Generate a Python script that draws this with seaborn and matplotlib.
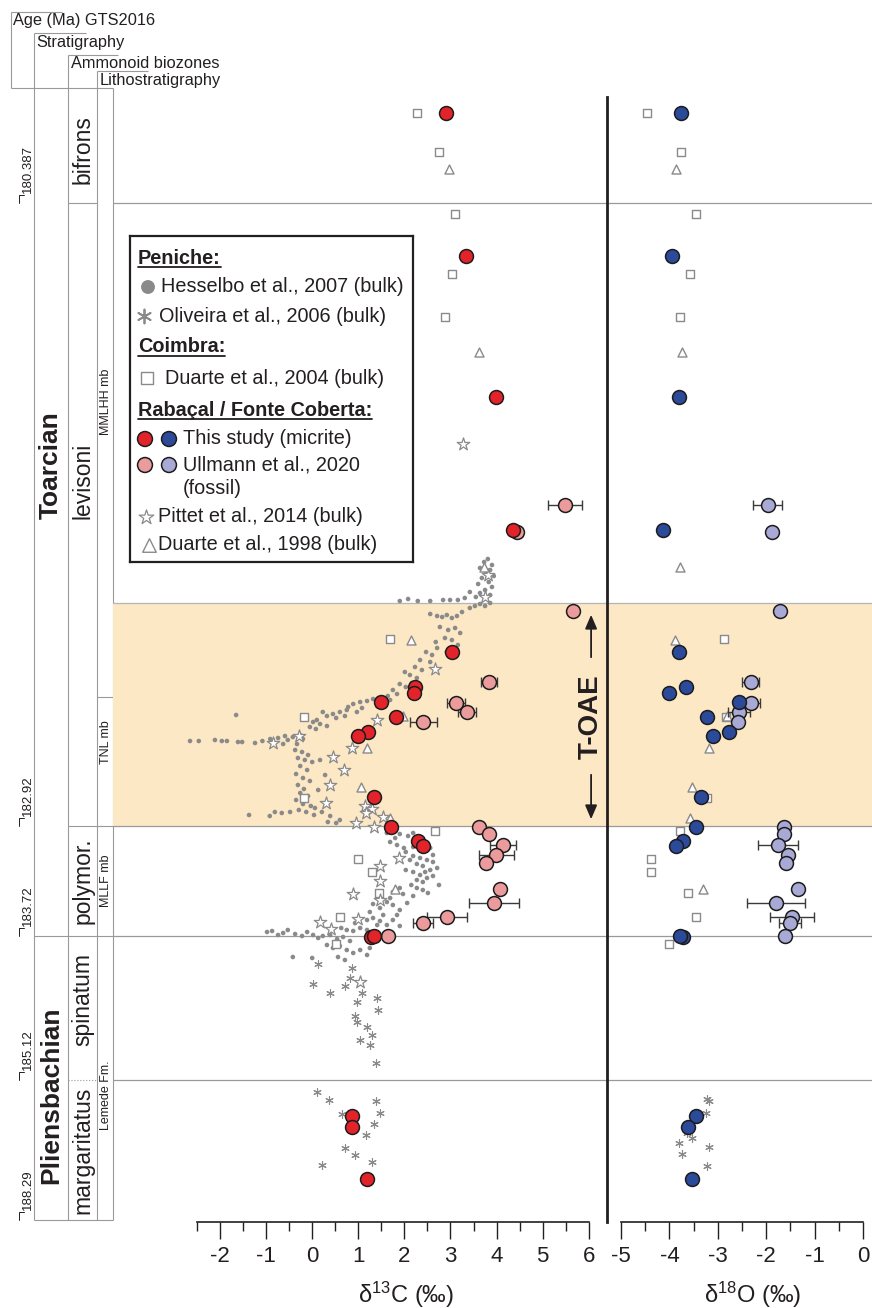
import numpy as np
import pandas as pd
import matplotlib
matplotlib.use("Agg")
import matplotlib.pyplot as plt
import seaborn as sns

# ---------------- stratigraphic framework (composite level, base = 0) ----------------
zone_names = ["bifrons", "levisoni", "polymor.", "spinatum", "margaritatus"]
zone_tops = [113.2, 101.9, 39.6, 28.6, 14.2]
zone_label_levels = [107.2, 74.1, 34.1, 22.2, 7.2]
stage_names = ["Toarcian", "Pliensbachian"]
stage_label_levels = [75.7, 12.7]
stage_boundary = 28.6
litho_names = ["MMLHH mb", "TNL mb", "MLLF mb", "Lemede Fm."]
litho_tops = [113.2, 52.5, 39.6, 28.6]
litho_label_levels = [82.0, 48.0, 34.1, 12.7]
age_labels = ["180.387", "182.92", "183.72", "185.12", "188.29"]
age_levels = [101.9, 39.6, 28.6, 14.2, 0.2]
section_base = 0.2
toae_base, toae_top = 39.6, 61.9

# ---------------- Peniche: Hesselbo et al. 2007 (bulk d13C) ----------------
hesselbo_d13c = [3.81, 3.73, 3.90, 3.64, 3.86, 3.77, 3.94, 3.68, 3.83, 3.60, 3.90, 3.75, 3.64, 3.86, 3.55, 3.42, 3.31, 3.16, 2.99, 2.84, 2.56, 2.29, 2.08, 1.90,
                 2.56, 2.71, 2.82, 2.92, 3.03, 3.14, 3.25, 3.42, 3.53, 3.64, 3.75, 3.86,
                 2.77, 2.95, 3.10, 3.21, 2.88, 3.03, 2.68, 3.16, 2.71, 2.92,
                 2.47, 2.60, 2.34, 2.56, 2.23, 2.38, 2.12, 2.27, 2.01, 2.16,
                 1.90, 2.03, 1.75, 1.84, 1.64, 1.54, 1.69,
                 1.32, 1.19, 1.04, 0.89, 1.41, 1.08, 0.78, 0.97,
                 0.75, 0.60, 0.45, 0.32, 0.23, 0.52, 0.71,
                 -1.65,
                 0.10, 0.02, 0.17, 0.32, -0.05, 0.08,
                 -2.65, -2.46, -2.11, -1.96, -1.85, -1.61, -1.52, -1.24, -1.08, -0.91, -0.74, -0.59, -0.53, -0.42, -0.33, -0.20, -0.26, -0.63,
                 -0.37, -0.22, -0.09, -0.31, -0.16, 0.00, -0.26, -0.11, -0.35, -0.20, -0.05, -0.31, -0.18, -0.26, -0.09, -0.35, -0.20, -0.03, -0.29, -0.13, 0.04,
                 0.17, 0.28, 0.13,
                 -1.37, -0.92, -0.81, -0.66, -0.48, 0.06, 0.21, 0.39, 0.60, 0.34, 0.52,
                 1.62, 1.90, 2.08, 2.19, 1.69, 1.84, 1.99, 2.19, 2.49, 1.80, 2.34, 2.56,
                 2.03, 2.19, 2.34, 2.49, 2.62, 2.27, 2.40, 2.62, 2.12,
                 2.03, 2.19, 2.34, 2.49, 2.56, 2.27, 2.40, 2.62, 2.71, 2.45,
                 2.15, 2.27, 2.40, 1.90, 1.97, 2.19, 1.75, 1.69, 2.75, 2.51,
                 1.62, 1.75, 1.90, 1.32, 1.47, 1.25, 1.54, 2.06, 1.84,
                 1.19, 1.32, 1.47, 1.62, 1.75, 1.90, 1.41, 0.93,
                 0.75, 0.89, 1.04, 1.19, 1.32, 0.63,
                 -0.98, -0.87, -0.74, -0.63, -0.53, -0.37, -0.22, -0.11, 0.02, 0.13, 0.23, 0.39, 0.54, 0.67, 0.82,
                 0.32, 0.45, 0.60, 0.75, 0.89, 1.04, 1.19, 1.25, -0.42, 0.00, 0.56, 0.71]
hesselbo_level = [66.3, 66.0, 65.7, 65.4, 65.2, 64.8, 64.6, 64.4, 64.0, 63.8, 63.5, 63.2, 62.9, 62.7, 62.5, 63.0, 62.4, 62.2, 62.2, 62.2, 62.1, 62.1, 62.3, 62.1,
                  60.8, 60.6, 60.5, 60.7, 60.4, 60.6, 61.0, 61.4, 61.6, 61.8, 61.6, 61.9,
                  59.5, 59.2, 59.4, 58.9, 58.4, 58.2, 58.0, 57.7, 57.4, 57.0,
                  57.0, 56.7, 56.2, 56.0, 55.5, 55.2, 54.7, 54.4, 55.0, 53.9,
                  53.8, 53.5, 53.2, 52.8, 52.6, 52.4, 52.2,
                  52.3, 52.1, 52.0, 51.8, 51.6, 51.4, 51.5, 51.0,
                  51.2, 51.0, 50.8, 50.6, 51.0, 50.4, 50.6,
                  50.7,
                  50.2, 50.0, 49.8, 49.6, 49.5, 49.3,
                  48.1, 48.1, 48.2, 48.1, 48.1, 48.0, 48.0, 47.9, 48.1, 48.3, 48.4, 48.6, 48.2, 48.5, 47.8, 48.3, 48.7, 47.8,
                  47.2, 47.0, 46.7, 46.4, 46.2, 46.0, 45.6, 45.2, 44.8, 44.4, 44.1, 43.7, 43.3, 42.9, 42.6, 42.2, 41.8, 41.6, 41.2, 41.0, 40.7,
                  46.2, 44.7, 43.2,
                  40.7, 40.6, 41.0, 40.9, 41.0, 41.4, 41.0, 40.6, 40.2, 40.0, 39.9,
                  38.9, 38.8, 38.6, 38.9, 38.0, 37.7, 37.4, 37.5, 37.9, 38.4, 38.2, 37.4,
                  37.0, 36.6, 36.4, 36.2, 36.0, 35.8, 35.6, 36.7, 36.2,
                  35.2, 35.0, 34.7, 34.4, 35.2, 34.2, 34.0, 34.6, 35.4, 35.0,
                  33.7, 33.4, 33.2, 33.4, 32.8, 32.6, 33.0, 32.4, 33.7, 32.9,
                  32.0, 31.7, 31.2, 31.8, 31.4, 31.0, 30.7, 31.9, 30.7,
                  30.2, 30.4, 30.1, 29.7, 30.2, 29.6, 29.7, 29.9,
                  29.2, 29.1, 29.4, 29.2, 28.9, 29.4,
                  29.0, 29.1, 28.7, 28.9, 29.2, 28.8, 28.6, 29.0, 28.7, 28.4, 28.6, 28.7, 28.3, 28.5, 28.1,
                  27.7, 27.4, 27.6, 27.2, 26.9, 27.2, 26.7, 27.4, 26.5, 26.4, 26.5, 26.2]

# ---------------- Peniche: Oliveira et al. 2006 (bulk) ----------------
oliveira_d13c = [0.13, 0.86, 0.82, 0.02, 0.71, 0.39, 1.08, 1.41, 0.97, 1.43, 0.93, 0.97, 1.19, 1.30, 1.04, 1.25, 1.38,
                 0.10, 0.36, 1.38, 1.47, 0.65, 1.34, 1.17, 0.71, 0.93, 1.30, 0.21]
oliveira_c_level = [25.8, 25.4, 24.4, 23.8, 23.6, 22.9, 22.9, 22.4, 22.0, 21.2, 20.6, 20.0, 19.5, 18.7, 18.2, 17.7, 15.9,
                    13.0, 12.2, 12.1, 10.9, 10.8, 9.8, 8.7, 7.4, 6.7, 6.0, 5.7]
oliveira_d18o = [-3.23, -3.18, -3.25, -3.64, -3.53, -3.80, -3.18, -3.73, -3.23]
oliveira_o_level = [12.3, 12.1, 10.9, 8.9, 8.4, 7.9, 7.5, 6.8, 5.6]

# ---------------- Coimbra: Duarte et al. 2004 (bulk) ----------------
duarte04_level = [110.9, 107.0, 100.8, 94.8, 90.5, 58.3, 50.5, 42.4, 39.1, 36.3, 35.0, 32.9, 30.5, 27.8]
duarte04_d13c = [2.27, 2.75, 3.10, 3.03, 2.88, 1.69, -0.17, -0.18, 2.66, 1.00, 1.30, 1.44, 0.60, 0.52]
duarte04_d18o = [-4.47, -3.77, -3.44, -3.57, -3.78, -2.87, -2.83, -3.22, -3.78, -4.37, -4.37, -3.62, -3.44, -4.00]

# ---------------- Rabacal / Fonte Coberta: this study (micrite) ----------------
micrite_level = [110.9, 96.6, 82.5, 69.2, 57.0, 53.5, 52.9, 52.0, 50.5, 49.0, 48.6, 42.5, 39.5, 38.1, 37.6, 28.5, 28.6, 10.6, 9.5, 4.3]
micrite_d13c = [2.90, 3.34, 3.99, 4.36, 3.03, 2.23, 2.21, 1.49, 1.81, 1.20, 1.00, 1.33, 1.71, 2.30, 2.40, 1.28, 1.33, 0.87, 0.87, 1.19]
micrite_d18o = [-3.77, -3.95, -3.80, -4.13, -3.80, -3.66, -4.00, -2.56, -3.23, -2.77, -3.09, -3.35, -3.46, -3.71, -3.87, -3.71, -3.78, -3.46, -3.62, -3.54]

# ---------------- Ullmann et al. 2020 (fossil) ----------------
fossil_level = [71.7, 69.0, 61.1, 54.0, 51.9, 51.0, 50.0, 39.5, 38.8, 37.7, 36.7, 35.9, 33.3, 31.9, 30.5, 29.9, 28.6]
fossil_d13c = [5.49, 4.44, 5.66, 3.84, 3.12, 3.36, 2.41, 3.62, 3.84, 4.14, 3.99, 3.77, 4.07, 3.95, 2.92, 2.40, 1.65]
fossil_d13c_sd = [0.37, 0.12, 0, 0.17, 0.20, 0.20, 0.29, 0, 0.08, 0.29, 0.38, 0, 0, 0.54, 0.43, 0.21, 0]
fossil_d18o = [-1.97, -1.89, -1.71, -2.32, -2.31, -2.56, -2.58, -1.63, -1.63, -1.75, -1.54, -1.59, -1.34, -1.80, -1.47, -1.51, -1.61]
fossil_d18o_sd = [0.30, 0.08, 0, 0.17, 0.19, 0.22, 0, 0, 0, 0.41, 0, 0, 0, 0.60, 0.45, 0.23, 0]

# ---------------- Pittet et al. 2014 (bulk d13C) ----------------
pittet_d13c = [3.27, 3.81, 3.75, 2.66, 1.40, -0.28, -0.84, 0.86, 0.46, 0.68, 0.39, 0.30, 1.15, 1.29, 1.17, 1.54, 0.96, 1.33, 1.89, 1.47, 1.46, 0.88, 1.47, 1.00, 0.17, 0.40, 1.04]
pittet_level = [77.8, 64.7, 62.5, 55.3, 50.2, 48.6, 47.9, 47.4, 46.5, 45.2, 43.7, 41.9, 41.6, 41.3, 40.9, 40.5, 39.9, 39.5, 36.4, 35.6, 34.1, 32.8, 32.2, 30.3, 30.0, 29.3, 24.0]

# ---------------- Duarte et al. 1998 (bulk) ----------------
duarte98_level = [105.3, 87.0, 65.5, 58.2, 50.6, 47.4, 43.5, 40.4, 33.3]
duarte98_d13c = [2.97, 3.62, 3.73, 2.14, 1.96, 1.18, 1.05, 1.69, 1.80]
duarte98_d18o = [-3.86, -3.73, -3.78, -3.88, -2.82, -3.18, -3.53, -3.57, -3.30]

d13c_ticks = list(range(-2, 7))
d18o_ticks = list(range(-5, 1))

# ---------------- style ----------------
sns.set_theme(style="white")
plt.rcParams["font.family"] = ["Liberation Sans", "DejaVu Sans"]
plt.rcParams["mathtext.fontset"] = "custom"
plt.rcParams["mathtext.rm"] = "Liberation Sans"
plt.rcParams["mathtext.it"] = "Liberation Sans:italic"
plt.rcParams["axes.unicode_minus"] = False

INK = "#231f20"
GREY = "#8a8a8a"
FRAME = "#9a9a9a"
RED, BLUE = "#e3232a", "#2c4a9a"
PINK, LAVENDER = "#ec9b9c", "#a9a9d6"
BAND = "#fde8c6"

W, H = 872, 1308
fig = plt.figure(figsize=(W / 100, H / 100), dpi=100)
bot = (H - 1222) / H
hgt = 1222 / H
ax0 = fig.add_axes([0, bot, 113 / W, hgt])
ax1 = fig.add_axes([113 / W, bot, 494 / W, hgt])
ax2 = fig.add_axes([607 / W, bot, 265 / W, hgt])
YMAX = 122.2
for ax in (ax0, ax1, ax2):
    ax.set_ylim(0, YMAX)
    ax.patch.set_alpha(0)
    ax.set_yticks([])
    for s in ax.spines.values():
        s.set_visible(False)
ax0.set_xlim(0, 113)
ax0.set_xticks([])
ax1.set_xlim(-4.321, 6.395)
ax2.set_xlim(-5.289, 0.186)


def lvl(ypx):
    return (1222 - ypx) / 10.0


# ---------------- stratigraphic columns ----------------
lk = dict(color=FRAME, lw=0.8, clip_on=False, solid_capstyle="butt")
# header boxes
ax0.plot([11, 11], [lvl(88), lvl(12)], **lk)
ax0.plot([11, 62], [lvl(12), lvl(12)], **lk)
ax0.plot([34, 86], [lvl(33), lvl(33)], **lk)
ax0.plot([68, 118], [lvl(55), lvl(55)], **lk)
ax0.plot([97, 148], [lvl(71), lvl(71)], **lk)
ax0.plot([11, 113], [lvl(88), lvl(88)], **lk)
ax0.plot([34, 34], [section_base, lvl(33)], **lk)
ax0.plot([68, 68], [section_base, lvl(55)], **lk)
ax0.plot([97, 97], [section_base, lvl(71)], **lk)
ax0.plot([113, 113], [section_base, lvl(88)], **lk)
ax0.plot([34, 113], [section_base, section_base], **lk)
hk = dict(fontsize=11.8, color=INK, va="center", ha="left")
ax0.text(13, lvl(21), "Age (Ma) GTS2016", **hk)
ax0.text(36, lvl(43), "Stratigraphy", **hk)
ax0.text(71, lvl(63), "Ammonoid biozones", **hk)
ax0.text(100, lvl(81), "Lithostratigraphy", **hk)

# stage boundary
ax0.plot([34, 68], [stage_boundary, stage_boundary], **lk)
for name, lv in zip(stage_names, stage_label_levels):
    ax0.text(51, lv, name, rotation=90, ha="center", va="center", fontsize=19,
             fontweight="bold", color=INK)

# ammonoid zones
for top in zone_tops[1:]:
    ls = ":" if top == zone_tops[-1] else "-"
    ax0.plot([68, 97], [top, top], color=FRAME, lw=0.8, ls=ls)
for name, lv in zip(zone_names, zone_label_levels):
    ax0.text(83, lv, name, rotation=90, ha="center", va="center", fontsize=16.5, color=INK)

# lithostratigraphy
for top in litho_tops[1:]:
    ax0.plot([97, 113], [top, top], **lk)
for name, lv in zip(litho_names, litho_label_levels):
    ax0.text(105.5, lv, name, rotation=90, ha="center", va="center", fontsize=9, color=INK)

# numerical ages
for lab, lv in zip(age_labels, age_levels):
    ax0.plot([19, 19, 24], [lv, lv + 0.8, lv + 0.8], color=INK, lw=0.7)
    ax0.text(28, lv + 1.0, lab, rotation=90, rotation_mode="anchor", ha="left",
             va="center", fontsize=9.5, color=INK)

# ---------------- zone lines and T-OAE band in both panels ----------------
for ax in (ax1, ax2):
    ax.axhspan(toae_base, toae_top, facecolor=BAND, edgecolor="none", zorder=0)
    ax.axhline(toae_top, color="#b5b5b5", lw=0.9, zorder=0.5)
    for top in zone_tops[1:]:
        ax.axhline(top, color=FRAME, lw=0.9, zorder=0.5)


def scatter(ax, x, y, **kw):
    df = pd.DataFrame({"x": x, "y": y})
    sns.scatterplot(data=df, x="x", y="y", ax=ax, legend=False, **kw)


hollow = dict(color="white", edgecolor=GREY, linewidth=1.0)
big = dict(marker="o", s=100, edgecolor="#1c1c1c", linewidth=1.1, zorder=6)
err_kw = dict(fmt="none", ecolor="#3a3a3a", elinewidth=1.0, capsize=3.5, capthick=1.0, zorder=5)

# d13C panel
scatter(ax1, hesselbo_d13c, hesselbo_level, marker="o", s=11, color=GREY, edgecolor="none", linewidth=0, zorder=2)
scatter(ax1, oliveira_d13c, oliveira_c_level, marker=(6, 2, 0), s=30, color=GREY, edgecolor=GREY, linewidth=0.8, zorder=2)
scatter(ax1, duarte04_d13c, duarte04_level, marker="s", s=38, zorder=3, **hollow)
scatter(ax1, pittet_d13c, pittet_level, marker="*", s=90, zorder=3, color="white", edgecolor=GREY, linewidth=0.9)
scatter(ax1, duarte98_d13c, duarte98_level, marker="^", s=42, zorder=3, **hollow)
ax1.errorbar(fossil_d13c, fossil_level, xerr=fossil_d13c_sd, **err_kw)
scatter(ax1, fossil_d13c, fossil_level, color=PINK, **big)
scatter(ax1, micrite_d13c, micrite_level, color=RED, **big)

# d18O panel
scatter(ax2, oliveira_d18o, oliveira_o_level, marker=(6, 2, 0), s=30, color=GREY, edgecolor=GREY, linewidth=0.8, zorder=2)
scatter(ax2, duarte04_d18o, duarte04_level, marker="s", s=38, zorder=3, **hollow)
scatter(ax2, duarte98_d18o, duarte98_level, marker="^", s=42, zorder=3, **hollow)
ax2.errorbar(fossil_d18o, fossil_level, xerr=fossil_d18o_sd, **err_kw)
scatter(ax2, fossil_d18o, fossil_level, color=LAVENDER, **big)
scatter(ax2, micrite_d18o, micrite_level, color=BLUE, **big)

# ---------------- axes ----------------
for ax, lo, hi, ticks in ((ax1, -2.5, 6, d13c_ticks), (ax2, -5, 0, d18o_ticks)):
    sp = ax.spines["bottom"]
    sp.set_visible(True)
    sp.set_bounds(lo, hi)
    sp.set_linewidth(1.2)
    sp.set_color(INK)
    ax.set_xticks(ticks)
    ax.tick_params(axis="x", which="major", bottom=True, length=12, width=1.0, direction="out",
                   labelsize=16, pad=5, colors=INK)
    ax.tick_params(axis="x", which="minor", bottom=True, length=6.5, width=1.0, direction="out", colors=INK)
    ax.set_xlabel("")
    ax.set_ylabel("")
ax1.set_xticks(np.arange(-2.5, 6.0, 1.0), minor=True)
ax2.set_xticks(np.arange(-4.5, 0.0, 1.0), minor=True)

lsp = ax2.spines["left"]
lsp.set_visible(True)
lsp.set_bounds(0, 112.5)
lsp.set_linewidth(2.0)
lsp.set_color(INK)

ax1.text(0.593, -0.06, r"δ$^{13}$C (‰)", transform=ax1.transAxes, ha="center", va="center",
         fontsize=17, color=INK)
ax2.text(0.55, -0.06, r"δ$^{18}$O (‰)", transform=ax2.transAxes, ha="center", va="center",
         fontsize=17, color=INK)

# T-OAE interval
toae_x = 6.05
toae_mid = 50.5
ax1.text(toae_x, toae_mid, "T-OAE", rotation=90, ha="center", va="center", fontsize=20,
         fontweight="bold", color=INK)
arrow = dict(arrowstyle="-|>,head_length=0.7,head_width=0.3", color=INK, lw=1.3)
ax1.annotate("", xy=(toae_x, toae_top - 0.9), xytext=(toae_x, toae_mid + 5.7), arrowprops=arrow)
ax1.annotate("", xy=(toae_x, toae_base + 0.4), xytext=(toae_x, toae_mid - 5.5), arrowprops=arrow)

# ---------------- legend box ----------------
lg = fig.add_axes([130 / W, 1 - 562 / H, 283 / W, 326 / H])
lg.set_xlim(0, 283)
lg.set_ylim(326, 0)
lg.set_xticks([])
lg.set_yticks([])
lg.set_facecolor("white")
for s in lg.spines.values():
    s.set_visible(True)
    s.set_color(INK)
    s.set_linewidth(1.6)

fs = 14.3
headers = []
for txt, yy in (("Peniche:", 22), ("Coimbra:", 111), ("Rabaçal / Fonte Coberta:", 174)):
    headers.append((lg.text(8, yy, txt, fontsize=fs, fontweight="bold", color=INK, va="center"), yy))

entries = [("Hesselbo et al., 2007 (bulk)", 31, 51), ("Oliveira et al., 2006 (bulk)", 29, 80),
           ("Duarte et al., 2004 (bulk)", 35, 142), ("This study (micrite)", 53, 203),
           ("Ullmann et al., 2020", 53, 229), ("(fossil)", 53, 252),
           ("Pittet et al., 2014 (bulk)", 28, 281), ("Duarte et al., 1998 (bulk)", 28, 309)]
for txt, xx, yy in entries:
    lg.text(xx, yy, txt, fontsize=fs, color=INK, va="center")

lg.scatter([18], [51], marker="o", s=100, color=GREY, edgecolor="none")
lg.scatter([14], [80], marker=(6, 2, 0), s=100, color=GREY, linewidth=1.3)
lg.scatter([17], [142], marker="s", s=75, color="white", edgecolor=GREY, linewidth=1.0)
lg.scatter([15, 39], [203, 203], marker="o", s=115, color=[RED, BLUE], edgecolor="#1c1c1c", linewidth=1.1)
lg.scatter([15, 39], [229, 229], marker="o", s=115, color=[PINK, LAVENDER], edgecolor="#1c1c1c", linewidth=1.1)
lg.scatter([16], [281], marker="*", s=120, color="white", edgecolor=GREY, linewidth=0.9)
lg.scatter([19], [309], marker="^", s=95, color="white", edgecolor=GREY, linewidth=1.0)

fig.canvas.draw()
renderer = fig.canvas.get_renderer()
inv = lg.transData.inverted()
for t, yy in headers:
    bb = t.get_window_extent(renderer=renderer)
    x0 = inv.transform((bb.x0, bb.y0))[0]
    x1 = inv.transform((bb.x1, bb.y0))[0]
    lg.plot([x0, x1], [yy + 9, yy + 9], color=INK, lw=1.3)

fig.savefig("out.png", dpi=100)
